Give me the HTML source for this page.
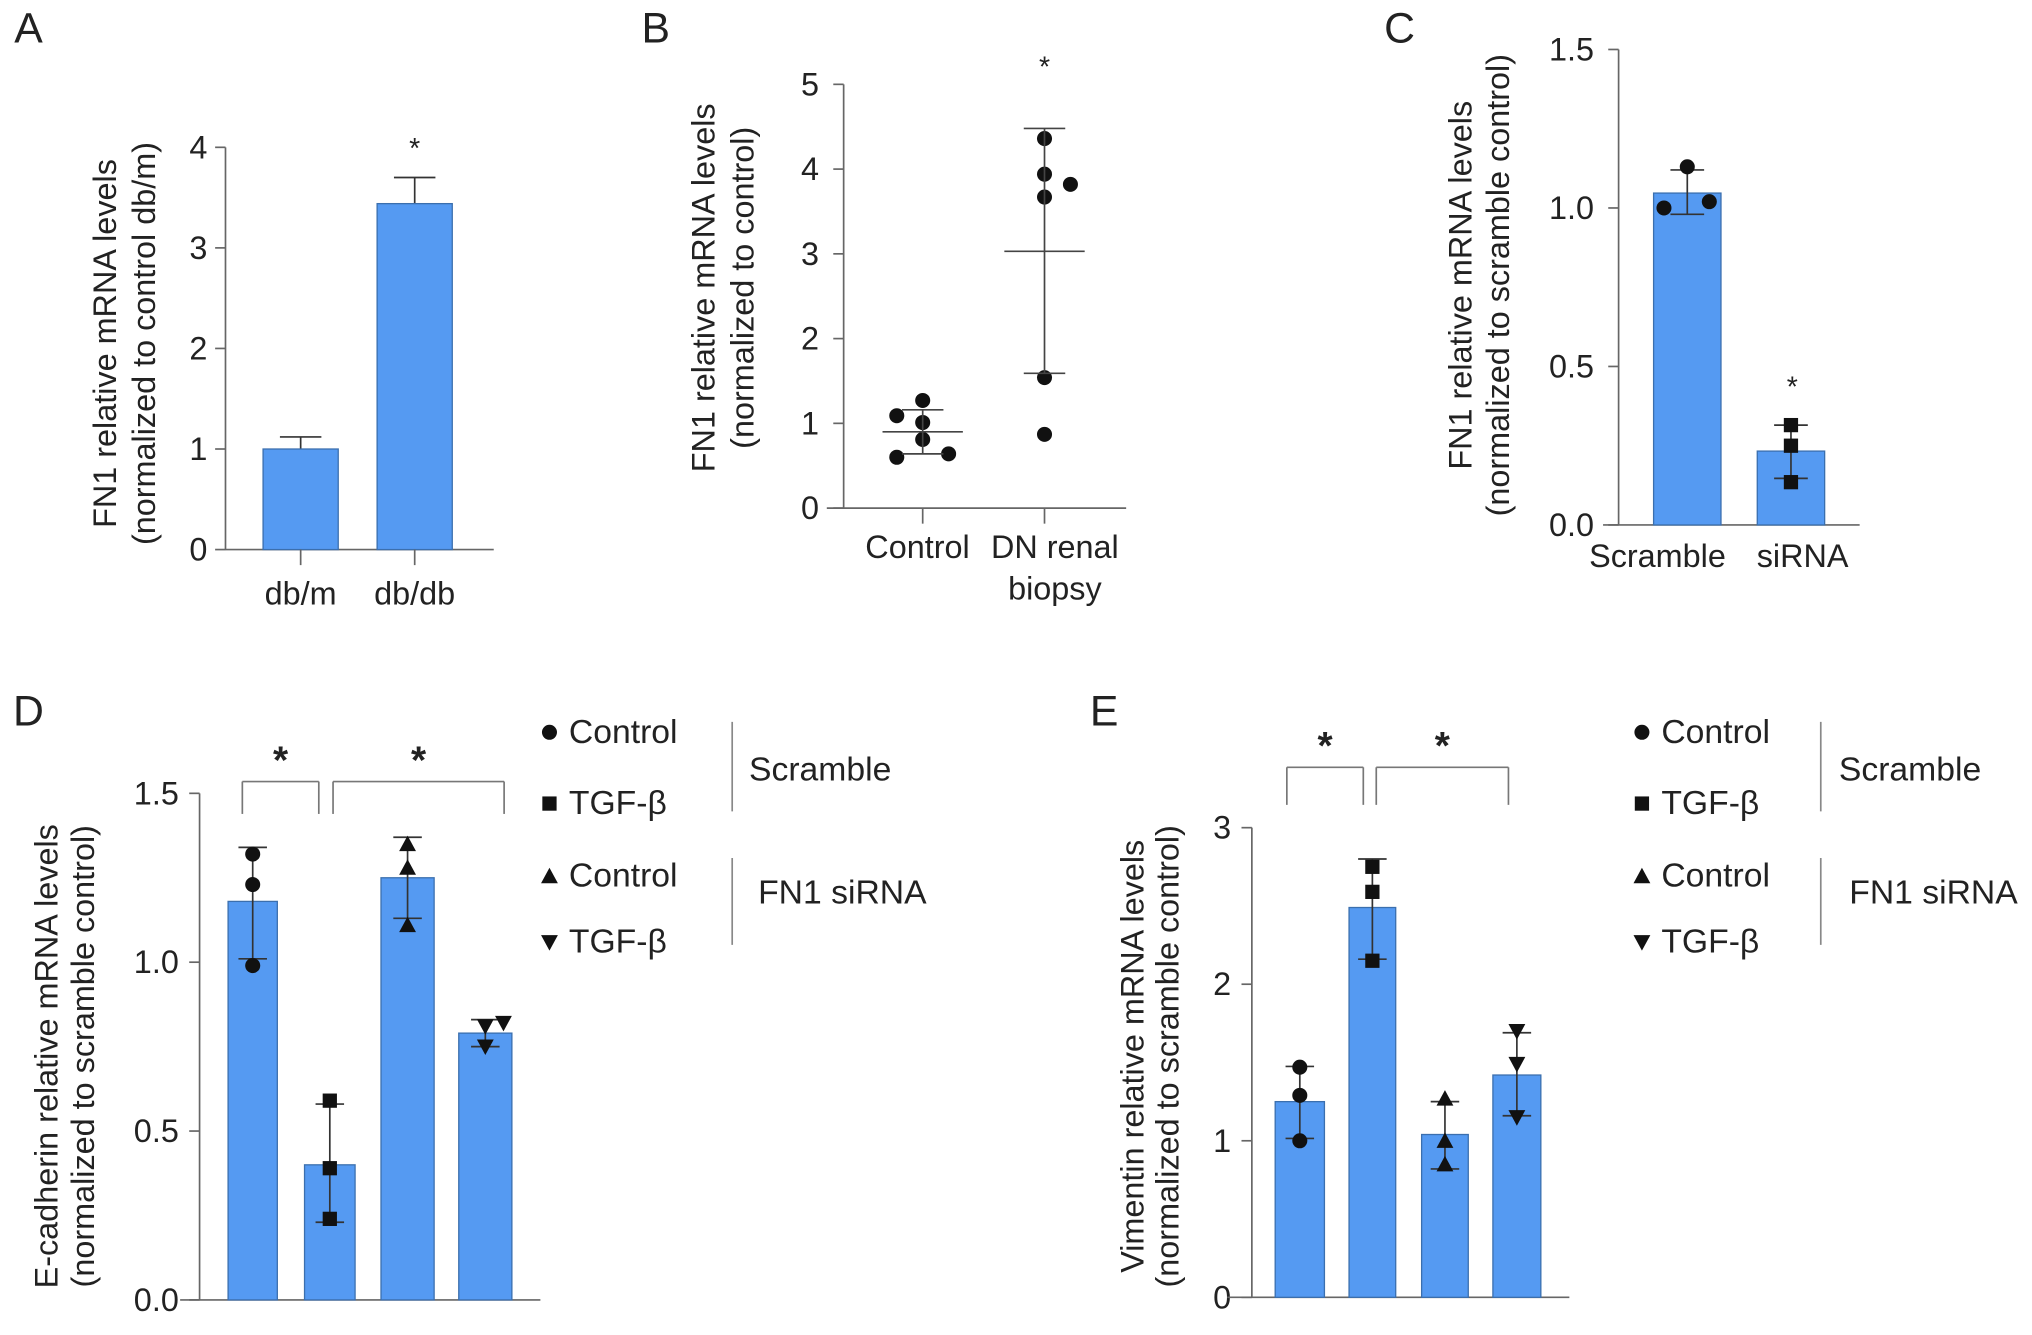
<!DOCTYPE html>
<html><head><meta charset="utf-8"><style>
html,body{margin:0;padding:0;background:#fff;}
svg{display:block;}
text{font-family:"Liberation Sans",sans-serif;fill:#222;}
.tick{font-family:"Liberation Sans Narrow","Liberation Sans",sans-serif;font-size:25px;}
</style></head><body>
<svg id="fig" width="2032" height="1335" viewBox="0 0 1568 1030" xmlns="http://www.w3.org/2000/svg"></svg>
<script>
// Panel A data
const aCategories = ["db/m", "db/db"];
const aValues = [1.0, 3.44];
const aErrTop = [1.12, 3.70];
const aTicks = [0, 1, 2, 3, 4];
// Panel B data
const bCategories = ["Control", "DN renal biopsy"];
const bPointsControl = [1.27, 1.09, 1.01, 0.81, 0.60, 0.64];
const bPointsDN = [4.36, 3.94, 3.67, 3.82, 1.54, 0.87];
const bMeans = [0.90, 3.03];
const bSdHi = [1.16, 4.48];
const bSdLo = [0.64, 1.59];
const bTicks = [0, 1, 2, 3, 4, 5];
// Panel C data
const cCategories = ["Scramble", "siRNA"];
const cValues = [1.047, 0.233];
const cErrHi = [1.12, 0.315];
const cErrLo = [0.98, 0.147];
const cPointsScr = [1.0, 1.13, 1.02];
const cPointsSi = [0.315, 0.25, 0.135];
const cTicks = ["0.0", "0.5", "1.0", "1.5"];
// Panel D data
const dValues = [1.18, 0.40, 1.25, 0.79];
const dErrHi = [1.34, 0.58, 1.37, 0.83];
const dErrLo = [1.01, 0.23, 1.13, 0.75];
const dPoints = [[1.32, 1.23, 0.99], [0.59, 0.39, 0.24], [1.35, 1.28, 1.11], [0.81, 0.82, 0.75]];
const dTicks = ["0.0", "0.5", "1.0", "1.5"];
// Panel E data
const eValues = [1.25, 2.49, 1.04, 1.42];
const eErrHi = [1.475, 2.80, 1.25, 1.69];
const eErrLo = [1.015, 2.16, 0.82, 1.16];
const ePoints = [[1.47, 1.29, 1.0], [2.75, 2.59, 2.15], [1.27, 1.0, 0.85], [1.70, 1.49, 1.15]];
const eTicks = [0, 1, 2, 3];

const NS = "http://www.w3.org/2000/svg";
const svg = document.getElementById("fig");
function mk(tag, attrs, parent, txt) {
  const e = document.createElementNS(NS, tag);
  for (const k in attrs) e.setAttribute(k, attrs[k]);
  if (txt !== undefined) e.textContent = txt;
  (parent || svg).appendChild(e);
  return e;
}
const AX = "#666", BAR = "#559af2", BARS = "#3b6fae";
function grp(name) {
  const g = mk("g", {}, svg);
  
  
  return g;
}
function line(g, x1, y1, x2, y2, name, col, w) {
  const l = mk("line", {x1, y1, x2, y2, stroke: col || AX, "stroke-width": w || 1.3}, g);
  
  
  return l;
}
function txt(g, x, y, s, name, opts) {
  opts = opts || {};
  const t = mk("text", {x, y, "text-anchor": opts.anchor || "middle", "font-size": opts.size || 25, "dominant-baseline": "central"}, g, s);
  if (opts.cls) t.setAttribute("class", opts.cls);
  if (opts.bold) t.setAttribute("font-weight", "bold");
  if (opts.rot) t.setAttribute("transform", "rotate(-90 " + x + " " + y + ")");
  
  
  return t;
}
function marker(g, type, x, y, name) {
  let m;
  if (type === "circle") m = mk("circle", {cx: x, cy: y, r: 5.8, fill: "#111"}, g);
  else if (type === "square") m = mk("rect", {x: x - 5.5, y: y - 5.5, width: 11, height: 11, fill: "#111"}, g);
  else if (type === "up") m = mk("polygon", {points: (x - 6.5) + "," + (y + 5.5) + " " + (x + 6.5) + "," + (y + 5.5) + " " + x + "," + (y - 6.5), fill: "#111"}, g);
  else m = mk("polygon", {points: (x - 6.5) + "," + (y - 5.5) + " " + (x + 6.5) + "," + (y - 5.5) + " " + x + "," + (y + 6.5), fill: "#111"}, g);
  
  
  return m;
}
function yAxis(g, ax, y0, yTop, ticks, scale, lx) {
  line(g, ax, y0, ax, yTop, "y-axis-line");
  ticks.forEach(t => {
    const y = scale(parseFloat(t));
    line(g, ax - 8, y, ax, y, "y-tick");
    txt(g, lx, y, String(t), "y-tick-label", {anchor: "end", cls: "tick"});
  });
}
function bar(g, x0, x1, v, scale, y0, name) {
  const r = mk("rect", {x: x0, y: scale(v), width: x1 - x0, height: y0 - scale(v), fill: BAR, stroke: BARS, "stroke-width": 1}, g);
  
  
}
function err(g, x, hi, lo, scale, hw, v) {
  const bottom = (lo === null) ? v : lo;
  line(g, x, scale(hi), x, scale(bottom), "error-bar", "#333", 1.3);
  line(g, x - hw, scale(hi), x + hw, scale(hi), "error-cap", "#333", 1.3);
  if (lo !== null) line(g, x - hw, scale(lo), x + hw, scale(lo), "error-cap", "#333", 1.3);
}
function ytitle(g, x1, x2, yc, l1, l2) {
  txt(g, x1, yc, l1, "y-axis-title", {rot: true, size: 25});
  txt(g, x2, yc, l2, "y-axis-title-sub", {rot: true, size: 25});
}

// Panel labels
[["A", 22, 22], ["B", 506, 22], ["C", 1080, 22], ["D", 22, 549], ["E", 852, 549]].forEach(p => {
  txt(svg, p[1], p[2], p[0], "panel-label-" + p[0].toLowerCase(), {size: 33});
});

// ===== Panel A =====
(function () {
  const g = grp("panel-a");
  const y0 = 424, k = 77.6, sA = v => y0 - v * k;
  yAxis(g, 174, y0, sA(4), aTicks, sA, 160);
  line(g, 174, y0, 381, y0, "x-axis-line");
  const cx = [232, 320];
  aCategories.forEach((c, i) => {
    err(g, cx[i], aErrTop[i], null, sA, 16, aValues[i]);
    bar(g, cx[i] - 29, cx[i] + 29, aValues[i], sA, y0, "bar-" + c);
    line(g, cx[i], y0, cx[i], 436, "x-tick");
    txt(g, cx[i], 458, c, "x-tick-label", {cls: "tick"});
  });
  txt(g, 320, 115, "*", "significance-star", {size: 22});
  ytitle(g, 81, 111, 265, "FN1 relative mRNA levels", "(normalized to control db/m)");
})();

// ===== Panel B =====
(function () {
  const g = grp("panel-b");
  const y0 = 392, k = 65.4, sB = v => y0 - v * k;
  yAxis(g, 651, y0, sB(5), bTicks, sB, 632);
  line(g, 638, y0, 869, y0, "x-axis-line");
  const cx = [712, 806];
  const offC = [0, -20, 0, 0, -20, 20];
  const offD = [0, 0, 0, 20, 0, 0];
  bPointsControl.forEach((v, i) => marker(g, "circle", cx[0] + offC[i], sB(v), "point-control"));
  bPointsDN.forEach((v, i) => marker(g, "circle", cx[1] + offD[i], sB(v), "point-dn"));
  [0, 1].forEach(i => {
    line(g, cx[i], sB(bSdHi[i]), cx[i], sB(bSdLo[i]), "sd-line", "#444");
    line(g, cx[i] - 31, sB(bMeans[i]), cx[i] + 31, sB(bMeans[i]), "mean-line", "#444");
    line(g, cx[i] - 16, sB(bSdHi[i]), cx[i] + 16, sB(bSdHi[i]), "sd-cap", "#444");
    line(g, cx[i] - 16, sB(bSdLo[i]), cx[i] + 16, sB(bSdLo[i]), "sd-cap", "#444");
    line(g, cx[i], y0, cx[i], 404, "x-tick");
  });
  txt(g, 708, 422, "Control", "x-tick-label", {cls: "tick"});
  txt(g, 814, 422, "DN renal", "x-tick-label", {cls: "tick"});
  txt(g, 814, 454, "biopsy", "x-tick-label", {cls: "tick"});
  txt(g, 806, 52, "*", "significance-star", {size: 22});
  ytitle(g, 543, 573, 222, "FN1 relative mRNA levels", "(normalized to control)");
})();

// ===== Panel C =====
(function () {
  const g = grp("panel-c");
  const y0 = 405, k = 244.6, sC = v => y0 - v * k;
  yAxis(g, 1249, y0, sC(1.5), cTicks, sC, 1230);
  line(g, 1237, y0, 1435, y0, "x-axis-line");
  const cx = [1302, 1382];
  cCategories.forEach((c, i) => {
    bar(g, cx[i] - 26, cx[i] + 26, cValues[i], sC, y0, "bar-" + c.toLowerCase());
    err(g, cx[i], cErrHi[i], cErrLo[i], sC, 13, cValues[i]);
  });
  const offS = [-18, 0, 17];
  cPointsScr.forEach((v, i) => marker(g, "circle", cx[0] + offS[i], sC(v), "point-scramble"));
  cPointsSi.forEach(v => marker(g, "square", cx[1], sC(v), "point-sirna"));
  txt(g, 1279, 429, "Scramble", "x-tick-label", {cls: "tick"});
  txt(g, 1391, 429, "siRNA", "x-tick-label", {cls: "tick"});
  txt(g, 1383, 299, "*", "significance-star", {size: 22});
  ytitle(g, 1127, 1156, 220, "FN1 relative mRNA levels", "(normalized to scramble control)");
})();

function groupedPanel(name, ax, y0, scale, yTop, ticks, vals, hi, lo, pts, barX, brackets, legX, lineX, grpTextX, ytl) {
  const g = grp(name);
  yAxis(g, ax, y0, yTop, ticks, scale, ax - 16);
  line(g, barX[0][0] - 37, y0, barX[3][1] + 22, y0, "x-axis-line");
  const types = ["circle", "square", "up", "down"];
  vals.forEach((v, i) => {
    const cx = (barX[i][0] + barX[i][1]) / 2;
    bar(g, barX[i][0], barX[i][1], v, scale, y0, "bar-" + (i + 1));
    err(g, cx, hi[i], lo[i], scale, 11, v);
    pts[i].forEach((p, j) => {
      let dx = 0;
      if (name === "panel-d" && i === 3 && j === 1) dx = 14;
      marker(g, types[i], cx + dx, scale(p), "point-" + types[i]);
    });
  });
  brackets.forEach(b => {
    line(g, b[0], b[3], b[0], b[2], "bracket", "#777");
    line(g, b[0], b[2], b[1], b[2], "bracket", "#777");
    line(g, b[1], b[2], b[1], b[3], "bracket", "#777");
    txt(g, (b[0] + b[1]) / 2, b[2] - 16, "*", "significance-star", {size: 30, bold: true});
  });
  const ly = [565, 620, 676, 727], lbl = ["Control", "TGF-β", "Control", "TGF-β"];
  ly.forEach((y, i) => {
    marker(g, types[i], legX, y, "legend-marker");
    txt(g, legX + 15, y, lbl[i], "legend-entry", {anchor: "start", size: 26});
  });
  line(g, lineX, 557, lineX, 626, "legend-divider", "#888");
  line(g, lineX, 662, lineX, 729, "legend-divider", "#888");
  txt(g, grpTextX[0], 594, "Scramble", "legend-group-scramble", {anchor: "start", size: 26});
  txt(g, grpTextX[1], 689, "FN1 siRNA", "legend-group-fn1-sirna", {anchor: "start", size: 26});
  ytitle(g, ytl[0], ytl[1], 815, ytl[2], ytl[3]);
}

// ===== Panel D =====
(function () {
  const y0 = 1003, k = 260.6, sD = v => y0 - v * k;
  groupedPanel("panel-d", 154, y0, sD, sD(1.5), dTicks, dValues, dErrHi, dErrLo, dPoints,
    [[176, 214], [235, 274], [294, 335], [354, 395]],
    [[187, 246, 603, 628], [257, 389, 603, 628]],
    424, 565, [578, 585],
    [36, 64, "E-cadherin relative mRNA levels", "(normalized to scramble control)"]);
})();

// ===== Panel E =====
(function () {
  const y0 = 1001, k = 120.8, sE = v => y0 - v * k;
  groupedPanel("panel-e", 966, y0, sE, sE(3), eTicks, eValues, eErrHi, eErrLo, ePoints,
    [[984, 1022], [1041, 1077], [1097, 1133], [1152, 1189]],
    [[993, 1052, 592, 621], [1062, 1164, 592, 621]],
    1267, 1405, [1419, 1427],
    [874, 901, "Vimentin relative mRNA levels", "(normalized to scramble control)"]);
})();
</script>
</body></html>
